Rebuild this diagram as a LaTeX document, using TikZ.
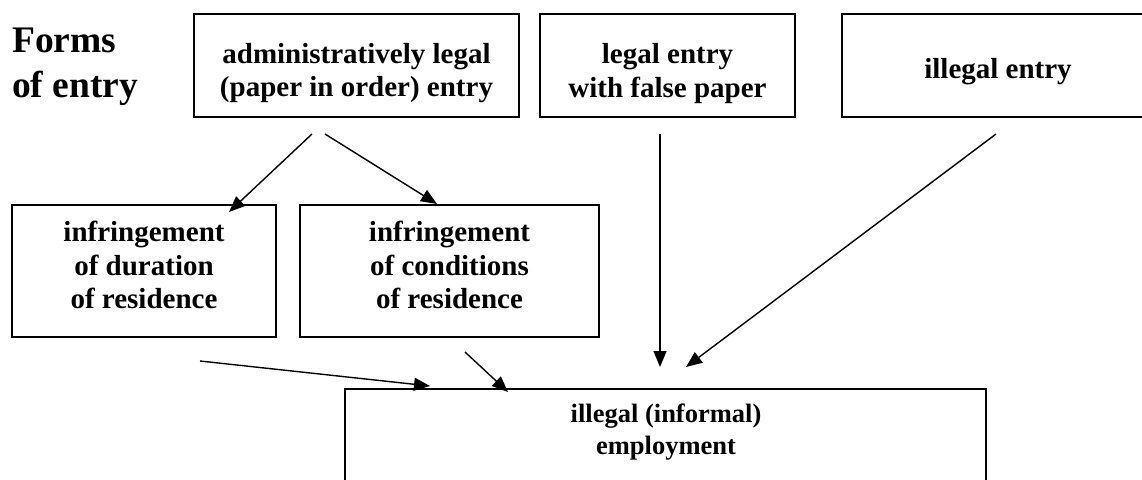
\documentclass[tikz,border=0pt]{standalone}
\usepackage{fontspec}
\setmainfont{Liberation Serif}
\usetikzlibrary{arrows.meta}
\begin{document}
\begin{tikzpicture}[x=1pt,y=-1pt,
  boxnode/.style={draw, line width=1.5pt, rectangle, inner sep=0pt},
  boxtext/.style={font=\bfseries\fontsize{29}{33.5}\selectfont, align=center, inner sep=0pt},
  smalltext/.style={font=\bfseries\fontsize{26.5}{32}\selectfont, align=center, inner sep=0pt},
  titletext/.style={font=\bfseries\fontsize{37.5}{45}\selectfont, align=left, inner sep=0pt},
  arr/.style={line width=1.4pt, -{Triangle[length=16pt,width=13pt]}}]
\useasboundingbox (0,0) rectangle (1142,479);
\clip (0,0) rectangle (1142,479);
% title
\node[titletext, anchor=north west] (title) at (12,28) {Forms\\of entry};
% top row
\node[boxnode, minimum width=325pt, minimum height=103pt] (A) at (356.5,65.5) {};
\node[boxtext] (At) at (356.5,73) {administratively legal\\(paper in order) entry};
\node[boxnode, minimum width=255pt, minimum height=103pt] (B) at (667.5,65.5) {};
\node[boxtext] (Bt) at (667.5,73.3) {legal entry\\with false paper};
\node[boxnode, minimum width=312pt, minimum height=103pt] (C) at (998,65.5) {};
\node[boxtext] (Ct) at (998,71.3) {illegal entry};
% middle row
\node[boxnode, minimum width=264pt, minimum height=132pt] (D) at (144,271) {};
\node[boxtext] (Dt) at (144,265) {infringement\\of duration\\of residence};
\node[boxnode, minimum width=299pt, minimum height=132pt] (E) at (449.5,271) {};
\node[boxtext] (Et) at (449.5,265) {infringement\\of conditions\\of residence};
% bottom
\node[boxnode, minimum width=641pt, minimum height=160pt] (F) at (665.5,469) {};
\node[smalltext] (Ft) at (666,432) {illegal (informal)\\employment};
% connector ends
\coordinate (a1s) at (312,134); \coordinate (a1e) at (229,212);
\coordinate (a2s) at (325,134); \coordinate (a2e) at (437,204);
\coordinate (b1s) at (660,134); \coordinate (b1e) at (660,367);
\coordinate (c1s) at (996,134); \coordinate (c1e) at (686,367);
\coordinate (d1s) at (200,361); \coordinate (d1e) at (430,386);
\coordinate (e1s) at (465,352); \coordinate (e1e) at (508,392);
\draw[arr] (a1s) -- (a1e);
\draw[arr] (a2s) -- (a2e);
\draw[arr] (b1s) -- (b1e);
\draw[arr] (c1s) -- (c1e);
\draw[arr] (d1s) -- (d1e);
\draw[arr] (e1s) -- (e1e);
\end{tikzpicture}
\end{document}
